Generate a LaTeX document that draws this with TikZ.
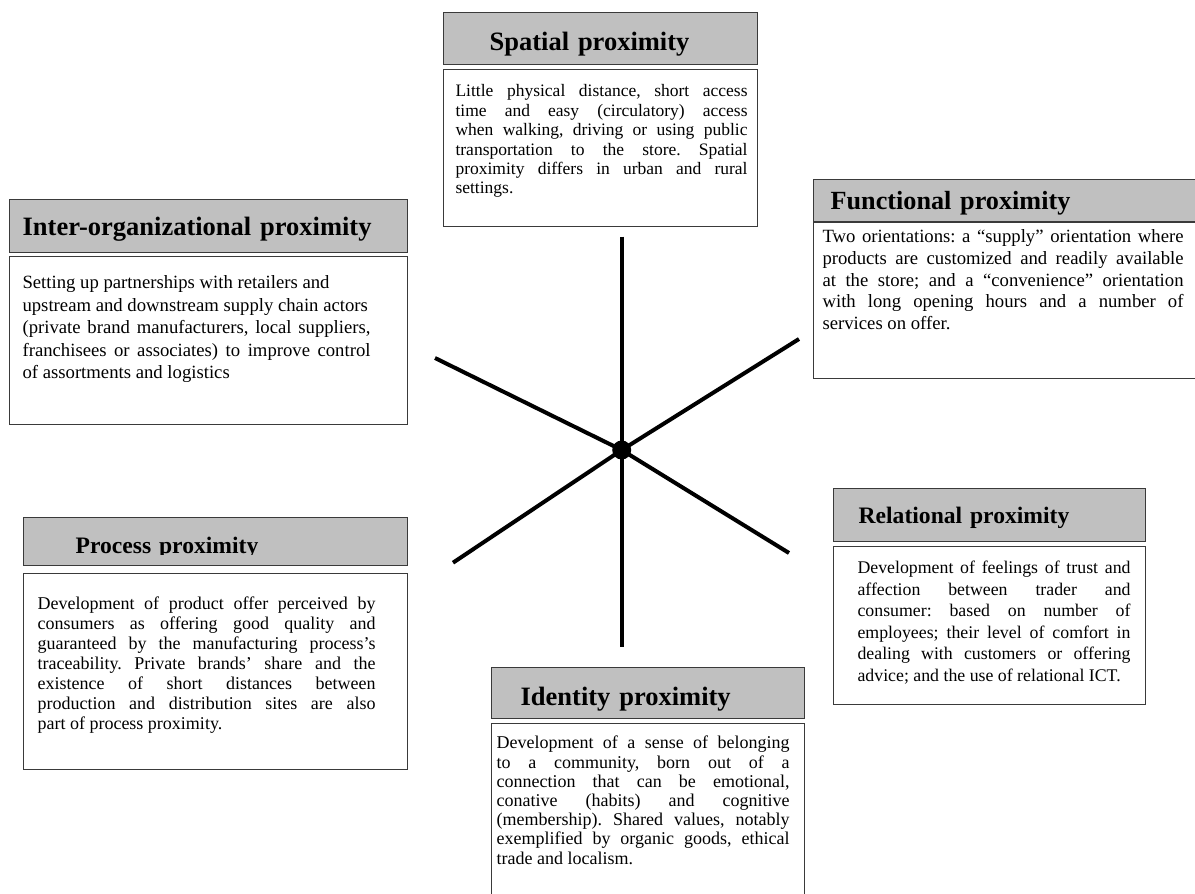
\documentclass[tikz,border=0pt]{standalone}
\usepackage{fontspec}
\setmainfont{Liberation Serif}
\usetikzlibrary{positioning}
\definecolor{headgray}{HTML}{C0C0C0}
\definecolor{framegray}{HTML}{3A3A3A}
% left pad, text width, right pad, text
\newcommand{\padtext}[4]{\hspace*{#1}\parbox[t]{#2}{#4}\hspace*{#3}}
\hyphenpenalty=10000
\tolerance=9999
\frenchspacing

\begin{document}
\begin{tikzpicture}[x=1pt, y=-1pt,
head/.style = {draw=framegray, fill=headgray, line width=1.3pt, inner sep=0pt, anchor=north west, align=left},
headbig/.style = {head, font=\bfseries\fontsize{26.5}{30}\selectfont},
headsmall/.style = {head, font=\bfseries\fontsize{23.6}{27}\selectfont},
body/.style = {draw=framegray, fill=white, line width=1.1pt, inner sep=0pt, anchor=north west},
spoke/.style = {line width=4pt},
hub/.style = {circle, fill, inner sep=0pt, minimum size=19pt}
]
\useasboundingbox (0,0) rectangle (1195,894);

% the star
\coordinate (tipN) at (621.7,236.7);
\coordinate (tipS) at (621.7,646.7);
\coordinate (tipNW) at (435,358);
\coordinate (tipSE) at (789,553);
\coordinate (tipNE) at (799,339);
\coordinate (tipSW) at (453,562.7);
\node [hub] (hub) at (621.7,450) {};
\draw [spoke] (tipN) -- (hub.center) -- (tipS);
\draw [spoke] (tipNW) -- (hub.center) -- (tipSE);
\draw [spoke] (tipNE) -- (hub.center) -- (tipSW);

% headers
\node [headbig, text width=314pt, text height=38pt, text depth=14pt] (sp) at (443,12) {\hspace*{46pt}Spatial proximity};
\node [headbig, text width=398pt, text height=36pt, text depth=17pt] (io) at (9,199) {\hspace*{13pt}Inter-organizational proximity};
\node [headbig, text width=390pt, text height=30pt, text depth=12pt, font=\bfseries\fontsize{26.2}{30}\selectfont] (fn) at (813,179) {\hspace*{17pt}Functional proximity};
\node [headsmall, text width=312pt, text height=35pt, text depth=18pt] (rl) at (833,488) {\hspace*{25pt}Relational proximity};
\node [headsmall, text width=384pt, text height=36pt, text depth=12pt] (pc) at (23,517) {\hspace*{52pt}Process proximity};
\fill [headgray] ([xshift=1.3pt, yshift=1.3pt]pc.south west) rectangle ([xshift=-1.3pt, yshift=11pt]pc.south east);
\node [headbig, text width=313pt, text height=38pt, text depth=13pt] (id) at (491,667) {\hspace*{29pt}Identity proximity};

% texts
\node [body, below=4pt of sp.south west, anchor=north west, text height=27pt, text depth=130pt, font=\fontsize{17.5}{19.4}\selectfont] (spt) {\padtext{12pt}{292pt}{10pt}{%
Little physical distance, short access \linebreak
time and easy (circulatory) access \linebreak
when walking, driving or using public \linebreak
transportation to the store. Spatial \linebreak
proximity differs in urban and rural \linebreak
settings.}};

\node [body, below=3pt of io.south west, anchor=north west, text height=32pt, text depth=136pt, font=\fontsize{18.7}{22.5}\selectfont] (iot) {\padtext{13pt}{348pt}{37pt}{%
Setting up partnerships with retailers and \\
upstream and downstream supply chain actors \\
(private brand manufacturers, local suppliers, \linebreak
franchisees or associates) to improve control \linebreak
of assortments and logistics}};

\node [body, below=0pt of fn.south west, anchor=north west, text height=20pt, text depth=136pt, font=\fontsize{18.7}{21.7}\selectfont] (fnt) {\padtext{9pt}{361pt}{20pt}{%
Two orientations: a “supply” orientation where \linebreak
products are customized and readily available \linebreak
at the store; and a “convenience” orientation \linebreak
with long opening hours and a number of \linebreak
services on offer.}};

\node [body, below=4pt of rl.south west, anchor=north west, text height=27pt, text depth=131pt, font=\fontsize{17.8}{21.5}\selectfont] (rlt) {\padtext{24pt}{273pt}{15pt}{%
Development of feelings of trust and \linebreak
affection between trader and \linebreak
consumer: based on number of \linebreak
employees; their level of comfort in \linebreak
dealing with customers or offering \linebreak
advice; and the use of relational ICT.}};

\node [body, below=7pt of pc.south west, anchor=north west, text height=36pt, text depth=160pt, font=\fontsize{18}{20}\selectfont] (pct) {\padtext{14pt}{338pt}{32pt}{%
Development of product offer perceived by \linebreak
consumers as offering good quality and \linebreak
guaranteed by the manufacturing process’s \linebreak
traceability. Private brands’ share and the \linebreak
existence of short distances between \linebreak
production and distribution sites are also \linebreak
part of process proximity.}};

\node [body, below=4pt of id.south west, anchor=north west, text height=25pt, text depth=153pt, font=\fontsize{18}{19.2}\selectfont] (idt) {\padtext{5pt}{293pt}{15pt}{%
Development of a sense of belonging \linebreak
to a community, born out of a \linebreak
connection that can be emotional, \linebreak
conative (habits) and cognitive \linebreak
(membership). Shared values, notably \linebreak
exemplified by organic goods, ethical \linebreak
trade and localism.}};

\end{tikzpicture}
\end{document}
